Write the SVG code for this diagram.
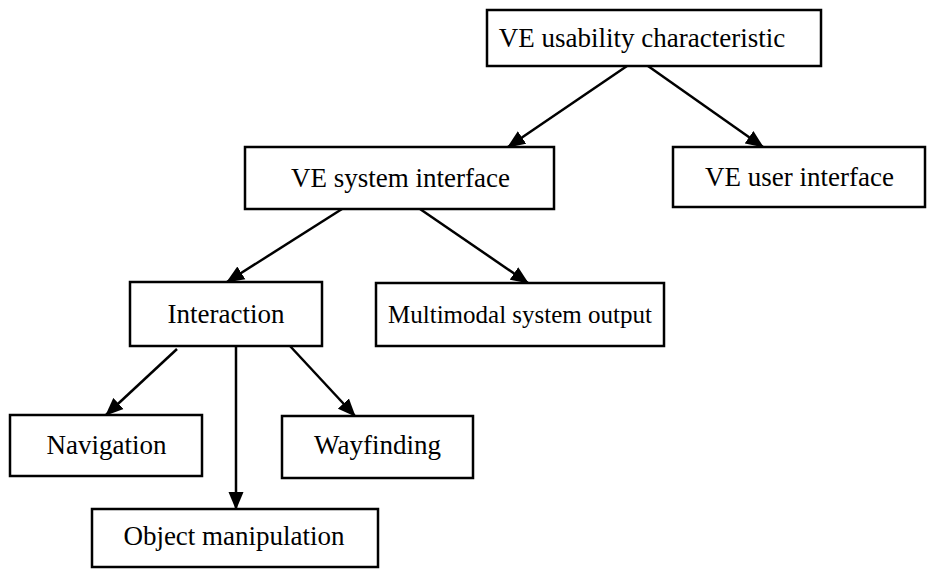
<svg xmlns="http://www.w3.org/2000/svg" width="928" height="570" viewBox="0 0 928 570">
  <style>
    .box { fill: #fff; stroke: #000; stroke-width: 2.5; }
    .lbl { font-family: "Liberation Serif", "Times New Roman", serif; font-size: 27px; fill: #000; text-anchor: middle; }
    .small { font-size: 25px; }
    .edge { stroke: #000; stroke-width: 2.5; fill: none; marker-end: url(#arrow); }
  </style>
  <defs>
    <marker id="arrow" markerUnits="userSpaceOnUse" markerWidth="19" markerHeight="16" refX="17" refY="8" orient="auto">
      <path d="M0,0.5 L18,8 L0,15.5 Z" fill="#000"/>
    </marker>
  </defs>

  <rect width="928" height="570" fill="#fff"/>

  <g id="connectors">
    <line class="edge" x1="627" y1="66" x2="508" y2="147"/>
    <line class="edge" x1="648" y1="66" x2="763" y2="147"/>
    <line class="edge" x1="342" y1="209" x2="227" y2="282"/>
    <line class="edge" x1="420" y1="209" x2="528" y2="283"/>
    <line class="edge" x1="177" y1="349" x2="106" y2="415"/>
    <line class="edge" x1="290" y1="346" x2="355" y2="416"/>
    <line class="edge" x1="236" y1="346" x2="236" y2="509"/>
  </g>

  <g id="usability">
    <rect class="box" x="487" y="10" width="334" height="56"/>
    <text class="lbl" x="642" y="47">VE usability characteristic</text>
  </g>
  <g id="system-interface">
    <rect class="box" x="245" y="147" width="309" height="62"/>
    <text class="lbl" x="400.5" y="187">VE system interface</text>
  </g>
  <g id="user-interface">
    <rect class="box" x="673" y="147" width="252" height="60"/>
    <text class="lbl" x="799.5" y="186">VE user interface</text>
  </g>
  <g id="interaction">
    <rect class="box" x="130" y="282" width="192" height="64"/>
    <text class="lbl" x="226" y="323">Interaction</text>
  </g>
  <g id="multimodal">
    <rect class="box" x="376" y="283" width="288" height="63"/>
    <text class="lbl small" x="520" y="323">Multimodal system output</text>
  </g>
  <g id="navigation">
    <rect class="box" x="10" y="415" width="192" height="61"/>
    <text class="lbl" x="106.5" y="454">Navigation</text>
  </g>
  <g id="wayfinding">
    <rect class="box" x="282" y="416" width="191" height="62"/>
    <text class="lbl" x="377.5" y="454">Wayfinding</text>
  </g>
  <g id="object-manipulation">
    <rect class="box" x="92" y="509" width="286" height="58"/>
    <text class="lbl" x="234" y="545">Object manipulation</text>
  </g>
</svg>
